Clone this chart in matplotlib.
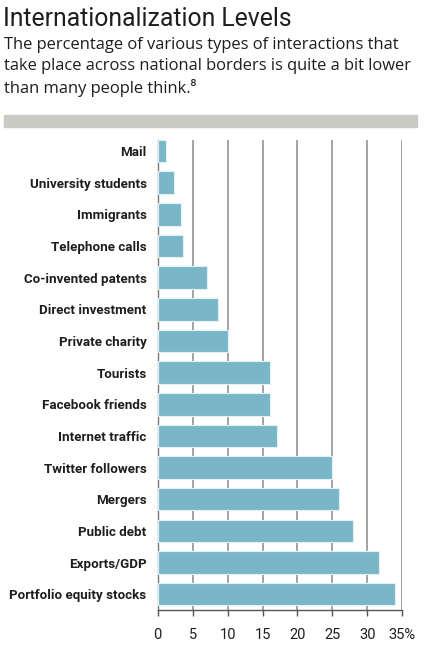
import matplotlib
matplotlib.use("Agg")
import matplotlib.pyplot as plt
from matplotlib import font_manager
from matplotlib.patches import Rectangle

# datos del grafico (porcentaje que cruza fronteras)
categories = ["Mail", "University students", "Immigrants", "Telephone calls",
              "Co-invented patents", "Direct investment", "Private charity",
              "Tourists", "Facebook friends", "Internet traffic",
              "Twitter followers", "Mergers", "Public debt", "Exports/GDP",
              "Portfolio equity stocks"]
values = [1.2, 2.3, 3.4, 3.6, 7.1, 8.6, 10.0, 16.0, 16.0, 17.0,
          25.0, 26.0, 28.0, 31.7, 34.0]
xticks = [0, 5, 10, 15, 20, 25, 30, 35]
xtick_labels = ["0", "5", "10", "15", "20", "25", "30", "35%"]

title = "Internationalization Levels"
subtitle = ("The percentage of various types of interactions that\n"
            "take place across national borders is quite a bit lower\n"
            "than many people think.\u2078")

installed = {f.name for f in font_manager.fontManager.ttflist}
narrow = "Roboto" if "Roboto" in installed else "Liberation Sans"
body = "Open Sans" if "Open Sans" in installed else "DejaVu Sans"

bar_color = "#79b7c8"
grid_color = "#8a8a8a"
text_color = "#1e1e1e"

fig = plt.figure(figsize=(4.27, 6.46), dpi=100)
ax = fig.add_axes([0.3693, 0.0557, 0.5729, 0.7276])

y = list(range(len(categories)))
ax.barh(y, values, height=0.71, color=bar_color, edgecolor="#e3f1f5",
        linewidth=0.8, zorder=3)

ax.set_xlim(0, 35)
ax.set_ylim(14.5, -0.35)
ax.set_xticks(xticks)
ax.set_xticklabels(xtick_labels, fontfamily=narrow, fontsize=10.5, color=text_color)
ax.set_yticks(y)
ax.set_yticklabels(categories, fontfamily=narrow, fontweight="bold",
                   fontsize=9.6, color=text_color)
ax.tick_params(axis="y", length=0, pad=8)
ax.tick_params(axis="x", length=4, width=1, color="#555555", pad=9, direction="out")

for x in xticks[1:]:
    ax.axvline(x, color=grid_color, linewidth=1.1, zorder=1)

ax.spines["top"].set_visible(False)
ax.spines["right"].set_visible(False)
ax.spines["left"].set_color("#777777")
ax.spines["bottom"].set_color("#555555")
ax.spines["left"].set_linewidth(1)
ax.spines["bottom"].set_linewidth(1)

fig.text(3 / 427, 1 - 7 / 646, title, fontfamily=narrow, fontsize=17.8,
         color=text_color, va="top", ha="left")
fig.text(4 / 427, 1 - 37 / 646, subtitle, family=[body, "DejaVu Sans"],
         fontsize=11.9, color=text_color, va="top", ha="left", linespacing=1.38)

fig.patches.append(Rectangle((4 / 427, 1 - 127 / 646), 413 / 427, 12 / 646,
                             transform=fig.transFigure, color="#c9cac4"))

fig.savefig("out.png", dpi=100)
